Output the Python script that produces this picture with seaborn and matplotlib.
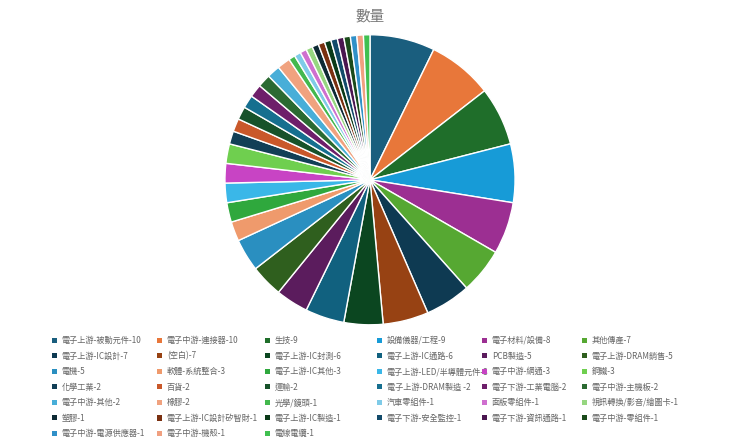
import matplotlib
matplotlib.use("Agg")
import matplotlib.pyplot as plt
from matplotlib.patches import Patch
import seaborn as sns

# data
categories = [
    "電子上游-被動元件", "電子中游-連接器", "生技", "設備儀器/工程", "電子材料/設備", "其他傳產",
    "電子上游-IC設計", "(空白)", "電子上游-IC封測", "電子上游-IC通路", "PCB製造", "電子上游-DRAM銷售",
    "電機", "軟體-系統整合", "電子上游-IC其他", "電子上游-LED/半導體元件", "電子中游-網通", "鋼鐵",
    "化學工業", "百貨", "運輸", "電子上游-DRAM製造 ", "電子下游-工業電腦", "電子中游-主機板",
    "電子中游-其他", "橡膠", "光學/鏡頭", "汽車零組件", "面板零組件", "視訊轉換/影音/繪圖卡",
    "塑膠", "電子上游-IC設計矽智財", "電子上游-IC製造", "電子下游-安全監控", "電子下游-資訊通路", "電子中游-零組件",
    "電子中游-電源供應器", "電子中游-機殼", "電線電纜",
]
counts = [
    10, 10, 9, 9, 8, 7,
    7, 7, 6, 6, 5, 5,
    5, 3, 3, 3, 3, 3,
    2, 2, 2, 2, 2, 2,
    2, 2, 1, 1, 1, 1,
    1, 1, 1, 1, 1, 1,
    1, 1, 1,
]

palette = [
    "#1a5e7e", "#e8773a", "#1f6e2a", "#179bd7", "#9c2f92", "#56a832",
    "#0e3a52", "#974213", "#0b4620", "#11617f", "#5b1c5d", "#2f5f1e",
    "#2a8fc0", "#ef9a6c", "#2fa83d", "#3ab7e8", "#c844c4", "#6fcf4f",
    "#123f56", "#c9582a", "#17522a", "#166f8f", "#6e1f6a", "#2b6a32",
    "#48aed8", "#f0a27f", "#43b84d", "#7fcbe8", "#cf6fcf", "#96d680",
    "#0d2a34", "#7a3010", "#0a3a18", "#124a6a", "#4a1650", "#1a4a1a",
    "#3090c8", "#f0a080", "#40c050",
]

sns.set_style("white")
plt.rcParams["font.family"] = ["Noto Sans CJK TC", "DejaVu Sans"]
colors = sns.color_palette(palette, len(palette))

fig = plt.figure(figsize=(7.4, 4.45), dpi=100)
ax = fig.add_axes([0.304, 0.270, 0.392, 0.652])
ax.pie(counts, colors=colors, startangle=90, counterclock=False,
       wedgeprops=dict(edgecolor="white", linewidth=1.0))
ax.set_xlim(-1, 1)
ax.set_ylim(-1, 1)
ax.set_aspect("equal")

fig.text(0.5, 0.962, "數量", ha="center", va="center", fontsize=10.5, color="#777777")

# legend: 6 fixed-width columns, row-major order
col_x = [52, 157, 265, 377, 482, 582]
for j, x in enumerate(col_x):
    idx = list(range(j, len(categories), 6))
    handles = [Patch(facecolor=colors[i], edgecolor="none") for i in idx]
    labels = [f"{categories[i]}-{counts[i]}" for i in idx]
    leg = fig.legend(handles, labels, loc="upper left",
                     bbox_to_anchor=(x / 740, 1 - 336 / 445),
                     frameon=False, fontsize=5.9, borderpad=0, borderaxespad=0,
                     handlelength=0.6, handleheight=0.6, handletextpad=0.6,
                     labelspacing=0.8)
    for t in leg.get_texts():
        t.set_color("#666666")

fig.savefig("out.png", dpi=100)
